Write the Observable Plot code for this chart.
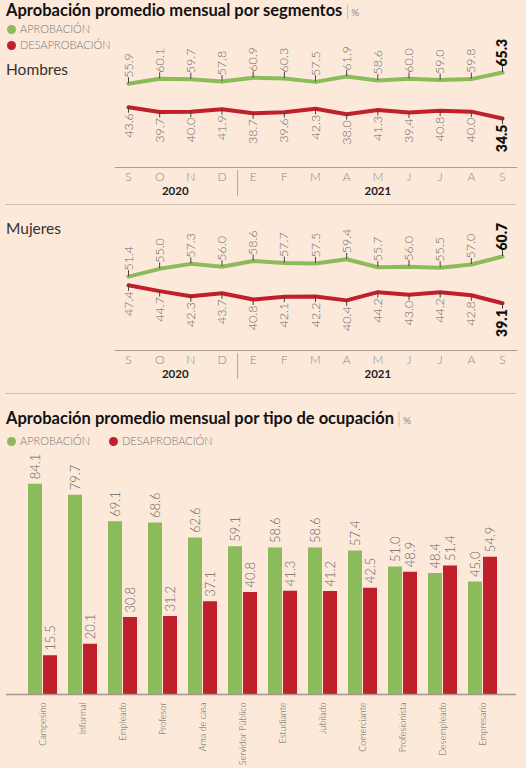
<!DOCTYPE html>
<html><head><meta charset="utf-8">
<script src="https://cdn.jsdelivr.net/npm/d3@7"></script>
<script src="https://cdn.jsdelivr.net/npm/@observablehq/plot@0.6"></script>
<style>
html,body{margin:0;padding:0;background:#fde9da;}
#page{position:relative;width:526px;height:768px;background:#fde9da;font-family:Lato,"Open Sans",sans-serif;overflow:hidden}
.abs{position:absolute}
.title{left:6px;font-weight:700;font-size:16.5px;line-height:18px;color:#111;white-space:nowrap}
.title .pipe{color:#b5a99f;font-weight:300;margin-left:3px}
.title .pct{font-size:10px;color:#888;font-weight:400;margin-left:2px}
.leg{font-size:11px;line-height:14px;color:#777;display:flex;align-items:center;white-space:nowrap;font-weight:300}
.dot{width:9px;height:9px;border-radius:50%;display:inline-block;margin-right:4px}
.panel{left:6px;font-size:15.5px;line-height:18px;color:#333}
.sep{left:5px;width:511px;height:0;border-top:1.5px solid #cfc0b2}
svg{overflow:visible}
</style></head>
<body>
<div id="page">
  <div class="abs title" style="top:1px">Aprobación promedio mensual por segmentos<span class="pipe">|</span><span class="pct">%</span></div>
  <div class="abs leg" style="left:7px;top:22px"><span class="dot" style="background:#8cbb5c"></span>APROBACIÓN</div>
  <div class="abs leg" style="left:7px;top:38px"><span class="dot" style="background:#c01f2c"></span>DESAPROBACIÓN</div>
  <div class="abs panel" style="top:60px">Hombres</div>
  <div class="abs" id="hombresBase" style="left:0;top:55px"></div>
  <div class="abs" id="hombresTop" style="left:0;top:55px"></div>
  <div class="abs sep" style="top:204px"></div>
  <div class="abs panel" style="top:219px">Mujeres</div>
  <div class="abs" id="mujeres" style="left:0;top:210px"></div>
  <div class="abs sep" style="top:393px"></div>
  <div class="abs title" style="top:409px">Aprobación promedio mensual por tipo de ocupación<span class="pipe">|</span><span class="pct">%</span></div>
  <div class="abs leg" style="left:7px;top:434px"><span class="dot" style="background:#8cbb5c"></span>APROBACIÓN</div>
  <div class="abs leg" style="left:109px;top:434px"><span class="dot" style="background:#c01f2c"></span>DESAPROBACIÓN</div>
  <div class="abs" id="barras" style="left:0;top:455px"></div>
</div>
<script>
const GREEN = "#8cbb5c", RED = "#c01f2c";
const FONT = "Lato, 'Open Sans', sans-serif";

const series = ["APROBACIÓN", "DESAPROBACIÓN"];
const months = ["S","O","N","D","E","F","M","A","M","J","J","A","S"];
const monthYears = ["2020","2020","2020","2020","2021","2021","2021","2021","2021","2021","2021","2021","2021"];

const hombresAprob = [55.9,60.1,59.7,57.8,60.9,60.3,57.5,61.9,58.6,60.0,59.0,59.8,65.3];
const hombresDesap = [43.6,39.7,40.0,41.9,38.7,39.6,42.3,38.0,41.3,39.4,40.8,40.0,34.5];
const mujeresAprob = [51.4,55.0,57.3,56.0,58.6,57.7,57.5,59.4,55.7,56.0,55.5,57.0,60.7];
const mujeresDesap = [47.4,44.7,42.3,43.7,40.8,42.1,42.2,40.4,44.2,43.0,44.2,42.8,39.1];

const ocupaciones = ["Campesino","Informal","Empleado","Profesor","Ama de casa","Servidor Público","Estudiante","Jubilado","Comerciante","Profesionista","Desempleado","Empresario"];
const ocupAprob = [84.1,79.7,69.1,68.6,62.6,59.1,58.6,58.6,57.4,51.0,48.4,45.0];
const ocupDesap = [15.5,20.1,30.8,31.2,37.1,40.8,41.3,41.2,42.5,48.9,51.4,54.9];

const fmt = d => d.v.toFixed(1);

// layers: [{values, k}] where k = 0 (aprobación, labels above) or 1 (desaprobación, labels below)
function linePlot(layers, o) {
  const lblStyle = {rotate: -90, fontSize: 12.5, fill: "#666", fontWeight: 300};
  const lastStyle = {rotate: -90, fontSize: 14, fill: "#111", fontWeight: 800};
  const marks = [];
  if (o.axis) {
    const rows = months.map((m, i) => ({i, year: monthYears[i]}));
    const years = d3.groups(rows, d => d.year).map(([year, r]) => ({year, mid: d3.mean(r, d => d.i)}));
    marks.push(
      Plot.frame({anchor: "bottom", stroke: "#a89b90", strokeWidth: 1.2}),
      Plot.axisX({ticks: d3.range(months.length), tickFormat: i => months[i], tickSize: 0, tickPadding: 5, fontSize: 12, fill: "#888", fontWeight: 300, label: null}),
      Plot.axisX({ticks: [3.5], tickFormat: () => "", tickSize: 26, stroke: "#b3a79c", dy: 3, label: null}),
      Plot.text(years, {x: "mid", text: "year", frameAnchor: "bottom", dy: o.yearDy, fontSize: 11.5, fontWeight: 700, fill: "#222"})
    );
  }
  for (const {values, k} of layers) {
    const data = values.map((v, i) => ({i, v, s: series[k], last: i === values.length - 1}));
    const up = k === 0;
    marks.push(
      Plot.line(data, {x: "i", y: "v", stroke: "s", strokeWidth: 4, strokeLinejoin: "round", strokeLinecap: "round"}),
      Plot.ruleX(data, {x: "i", y1: "v", y2: "v", [up ? "insetTop" : "insetBottom"]: -6, stroke: "#444", strokeWidth: 1}),
      Plot.text(data.filter(d => !d.last), {x: "i", y: "v", text: fmt, textAnchor: up ? "start" : "end", dy: up ? -6 : 6, ...lblStyle}),
      Plot.text(data.filter(d => d.last), {x: "i", y: "v", text: fmt, textAnchor: up ? "start" : "end", dy: up ? -6 : 6, ...lastStyle})
    );
  }
  return Plot.plot({
    width: 526, height: o.height,
    marginLeft: 115, marginRight: 10, marginTop: 0, marginBottom: o.marginBottom,
    style: {background: "transparent", fontFamily: FONT, overflow: "visible"},
    x: {type: "linear", domain: [0, months.length - 1], range: [128, 502], label: null, ...(o.axis ? {} : {axis: null})},
    y: {domain: o.yDomain, range: o.yRange, axis: null},
    color: {domain: series, range: [GREEN, RED]},
    marks
  });
}

// Hombres: the printed chart uses a tighter vertical scale within each line than between them,
// so each line gets its own y scale (two overlaid plots sharing the same x scale).
document.getElementById("hombresBase").append(linePlot([{values: hombresDesap, k: 1}], {
  axis: true, height: 145, marginBottom: 33, yearDy: 27,
  yDomain: [34.5, 43.6], yRange: [63.0, 51.7]
}));
document.getElementById("hombresTop").append(linePlot([{values: hombresAprob, k: 0}], {
  axis: false, height: 145, marginBottom: 33,
  yDomain: [55.9, 65.3], yRange: [28.3, 17.0]
}));

document.getElementById("mujeres").append(linePlot([{values: mujeresAprob, k: 0}, {values: mujeresDesap, k: 1}], {
  axis: true, height: 185, marginBottom: 45, yearDy: 27,
  yDomain: [39.1, 60.7], yRange: [92.7, 46]
}));

const BA = ocupaciones.map((c, i) => ({c, v: ocupAprob[i], s: series[0]}));
const BD = ocupaciones.map((c, i) => ({c, v: ocupDesap[i], s: series[1]}));
const barLbl = {rotate: -90, textAnchor: "start", dy: -5, fontSize: 13, fill: "#666", fontWeight: 300};

document.getElementById("barras").append(Plot.plot({
  width: 526, height: 313,
  marginLeft: 6, marginRight: 10, marginTop: 0, marginBottom: 74,
  style: {background: "transparent", fontFamily: FONT, overflow: "visible"},
  x: {domain: ocupaciones, range: [22, 503], paddingInner: 0.268, paddingOuter: 0, label: null},
  y: {domain: [0, 90], range: [239, 14], axis: null},
  color: {domain: series, range: [GREEN, RED]},
  marks: [
    Plot.barY(BA, {x: "c", y: "v", fill: "s", insetRight: 15}),
    Plot.barY(BD, {x: "c", y: "v", fill: "s", insetLeft: 15}),
    Plot.text(BA, {x: "c", y: "v", text: fmt, dx: -7.5, ...barLbl}),
    Plot.text(BD, {x: "c", y: "v", text: fmt, dx: 7.5, ...barLbl}),
    Plot.ruleY([0], {stroke: "#a3978d", strokeWidth: 1.5}),
    Plot.axisX({tickRotate: -90, tickSize: 0, tickPadding: 8, fontSize: 9, fill: "#5f5f5f", fontWeight: 300, label: null})
  ]
}));
</script>
</body></html>
